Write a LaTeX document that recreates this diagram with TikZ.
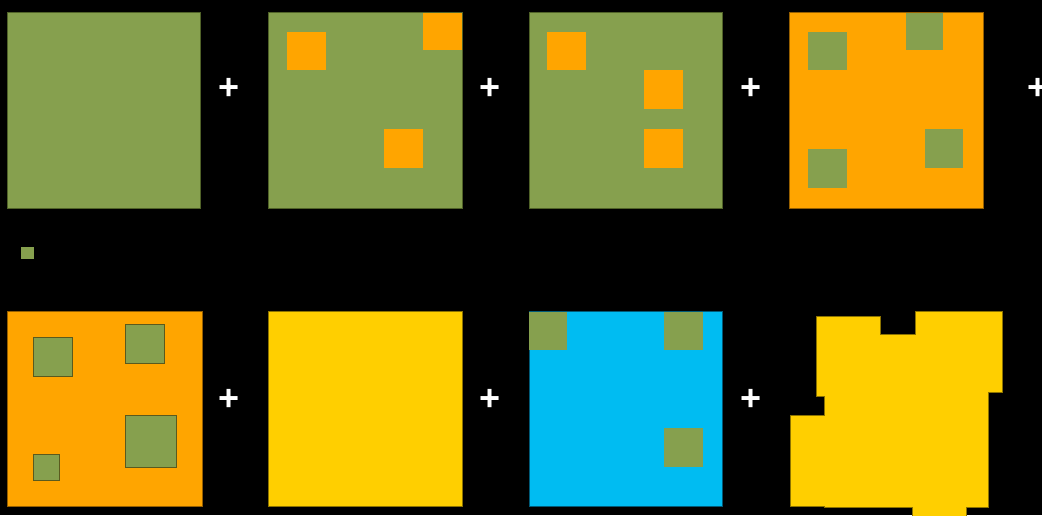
\documentclass[tikz,border=0pt]{standalone}
\usepackage{fontspec}
\setmainfont{Liberation Sans}
\definecolor{olive}{RGB}{134,160,78}
\definecolor{oliveedge}{RGB}{80,98,40}
\definecolor{orng}{RGB}{255,165,0}
\definecolor{orngedge}{RGB}{150,95,0}
\definecolor{yel}{RGB}{255,207,0}
\definecolor{yeledge}{RGB}{140,115,0}
\definecolor{cyn}{RGB}{0,188,242}
\definecolor{cynedge}{RGB}{0,90,120}
\definecolor{innedge}{RGB}{90,90,30}
\tikzset{
  plusmark/.style={text=white,inner sep=0pt,font=\fontsize{36}{36}\selectfont\bfseries},
  bigsq/.style={line width=0.9pt},
}
\begin{document}
\begin{tikzpicture}[x=1pt,y=-1pt]
\useasboundingbox (0,0) rectangle (1042,515);
\fill[black] (0,0) rectangle (1042,515);
\begin{scope}
\clip (0,0) rectangle (1042,515);
% top row
\filldraw[bigsq,fill=olive,draw=oliveedge] (7.7,12.7) rectangle (200.5,208.2);
\filldraw[bigsq,fill=olive,draw=oliveedge] (268,12.7) rectangle (462,208.2);
\fill[orng] (287.3,31.7) rectangle (326,70.3);
\fill[orng] (423,12.9) rectangle (461.6,50.3);
\fill[orng] (384,129.3) rectangle (422.7,167.7);
\filldraw[bigsq,fill=olive,draw=oliveedge] (529,12.7) rectangle (722.3,208.2);
\fill[orng] (547.3,31.7) rectangle (586.3,70.3);
\fill[orng] (644.3,70.3) rectangle (683,109);
\fill[orng] (644.3,129.3) rectangle (683,167.7);
\filldraw[bigsq,fill=orng,draw=orngedge] (789.7,12.7) rectangle (983,208.2);
\fill[olive] (808,31.7) rectangle (846.7,70.3);
\fill[olive] (905.7,12.9) rectangle (943.3,50.3);
\fill[olive] (924.7,129.3) rectangle (963.3,167.7);
\fill[olive] (808,149.3) rectangle (846.7,187.7);
% small square
\fill[olive] (20.7,247) rectangle (33.7,259);
% bottom row
\filldraw[bigsq,fill=orng,draw=orngedge] (7.7,311.7) rectangle (202.7,506.3);
\filldraw[bigsq,fill=olive,draw=innedge] (33.3,337.3) rectangle (72.7,376.3);
\filldraw[bigsq,fill=olive,draw=innedge] (125,324.7) rectangle (164,363.3);
\filldraw[bigsq,fill=olive,draw=innedge] (125,415.7) rectangle (176.7,467.3);
\filldraw[bigsq,fill=olive,draw=innedge] (33.3,454.3) rectangle (59.7,480.7);
\filldraw[bigsq,fill=yel,draw=yeledge] (268,311.7) rectangle (462,506.3);
\filldraw[bigsq,fill=cyn,draw=cynedge] (529,311.7) rectangle (722.3,506.3);
\fill[olive] (529.4,312.1) rectangle (566.7,349.7);
\fill[olive] (664.3,312.1) rectangle (703.3,349.7);
\fill[olive] (664.3,427.7) rectangle (703.3,467.3);
\filldraw[bigsq,fill=yel,draw=yeledge]
  (816.7,316) -- (880,316) -- (880,334.3) -- (915,334.3) -- (915,311)
  -- (1002.7,311) -- (1002.7,392.3) -- (988.7,392.3) -- (988.7,507.3)
  -- (966.7,507.3) -- (966.7,520) -- (912,520) -- (912,507.3)
  -- (824,507.3) -- (824,506.7) -- (790.7,506.7) -- (790.7,415.7)
  -- (824,415.7) -- (824,396.7) -- (816.7,396.7) -- cycle;
\end{scope}
% plus signs
\node[plusmark] (p1) at (229.5,88.5) {+};
\node[plusmark] (p2) at (490,88.5) {+};
\node[plusmark] (p3) at (751.5,88.5) {+};
\node[plusmark] (p4) at (1038.5,88.5) {+};
\node[plusmark] (p5) at (229.5,400) {+};
\node[plusmark] (p6) at (490,400) {+};
\node[plusmark] (p7) at (751.5,400) {+};
\end{tikzpicture}
\end{document}
